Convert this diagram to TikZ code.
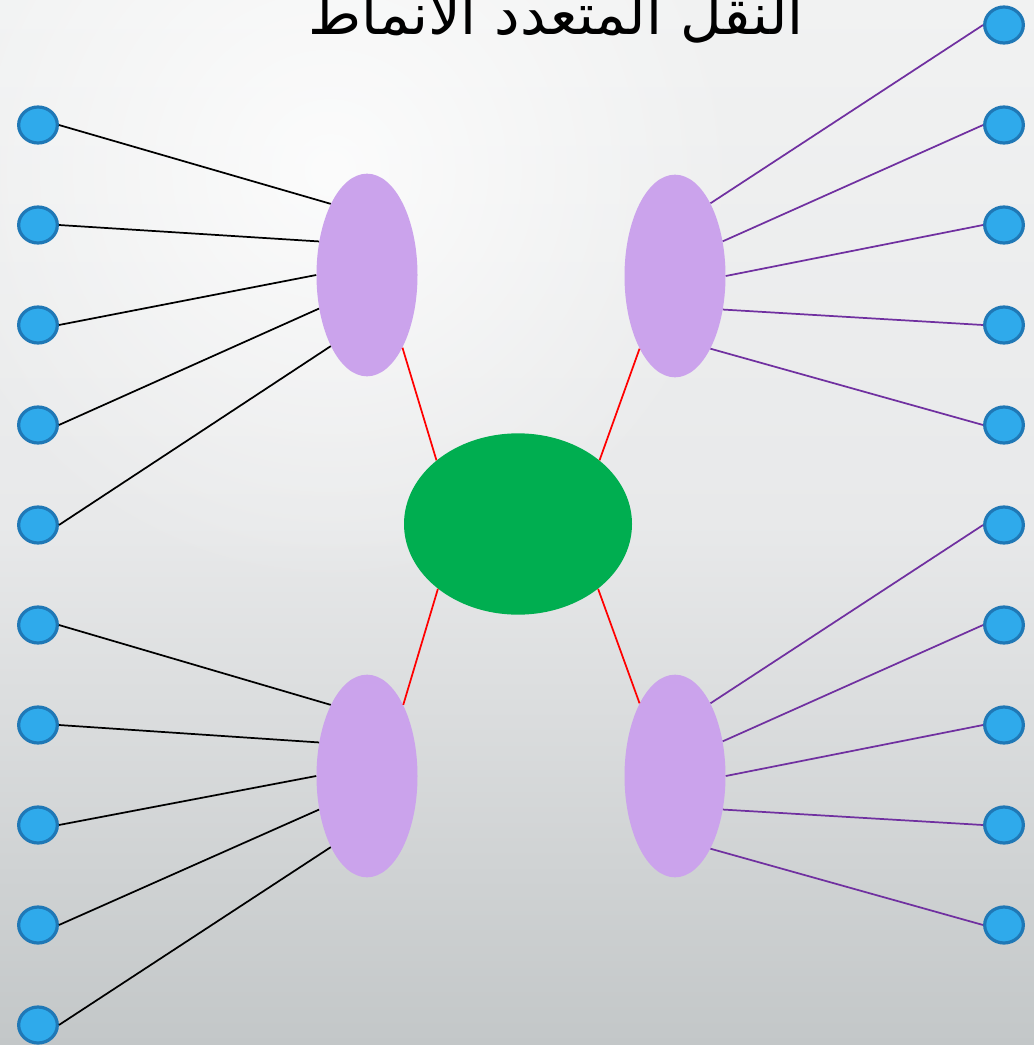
\documentclass[tikz,border=0pt]{standalone}
\usepackage{fontspec}
\newfontfamily\arabicfont[Script=Arabic]{DejaVu Sans}
\TeXXeTstate=1
\usetikzlibrary{shapes.geometric,fadings}
\definecolor{bgtop}{HTML}{F1F2F2}
\definecolor{bgmid}{HTML}{E8E9EA}
\definecolor{bgbot}{HTML}{C3C7C8}
\definecolor{leaffill}{HTML}{2FAAEB}
\definecolor{leafline}{HTML}{1F78B6}
\definecolor{hubfill}{HTML}{CBA3EC}
\definecolor{corefill}{HTML}{00AE50}
\definecolor{rightline}{HTML}{7030A0}
\tikzfading[name=glow, inner color=transparent!20, outer color=transparent!100]
\tikzset{
  leaf/.style={ellipse, draw=leafline, line width=2.4pt, fill=leaffill,
    minimum width=29pt, minimum height=27pt, inner sep=0pt},
  hub/.style={ellipse, fill=hubfill, minimum width=75.75pt,
    minimum height=152pt, inner sep=0pt},
  core/.style={ellipse, fill=corefill, minimum width=171pt,
    minimum height=136pt, inner sep=0pt},
  leftlink/.style={black, line width=1.3pt},
  rightlink/.style={rightline, line width=1.3pt},
  corelink/.style={red, line width=1.3pt}
}
\begin{document}
\begin{tikzpicture}[x=0.75pt,y=-0.75pt]
\useasboundingbox (0,0) rectangle (1034,1045);
\clip (0,0) rectangle (1034,1045);
% background
\shade[top color=bgtop, bottom color=bgbot, middle color=bgmid, shading angle=0]
  (0,0) rectangle (1034,1045);
\fill[white, path fading=glow] (330,170) circle (420);
% title
\node[font=\arabicfont\fontsize{43}{52}\selectfont, anchor=base] (title) at (556,35)
  {\beginR النقل المتعدد الأنماط\endR};
% central node and hubs
\node[core] (core) at (518,524) {};
\node[hub] (hTL) at (367,275) {};
\node[hub] (hTR) at (675,276) {};
\node[hub] (hBL) at (367,776) {};
\node[hub] (hBR) at (675,776) {};
% leaves
\foreach \i in {1,...,10} {
  \node[leaf] (L\i) at (38,25+100*\i) {};
  \node[leaf] (R\i) at (1004,-75+100*\i) {};
}
% hub to core links
\draw[corelink] (hTL.296) -- (core.142);
\draw[corelink] (hTR.244) -- (core.38);
\draw[corelink] (hBL.63) -- (core.219);
\draw[corelink] (hBR.116) -- (core.321);
% left leaves
\foreach \i/\a in {1/117,2/145,3/180,4/215,5/243} {
  \draw[leftlink] (L\i.east) -- (hTL.\a);
}
\foreach \i/\a in {6/117,7/145,8/180,9/215,10/243} {
  \draw[leftlink] (L\i.east) -- (hBL.\a);
}
% right leaves
\foreach \i/\a in {1/64,2/36,3/0,4/-35,5/-64} {
  \draw[rightlink] (R\i.west) -- (hTR.\a);
}
\foreach \i/\a in {6/64,7/36,8/0,9/-35,10/-64} {
  \draw[rightlink] (R\i.west) -- (hBR.\a);
}
\end{tikzpicture}
\end{document}
